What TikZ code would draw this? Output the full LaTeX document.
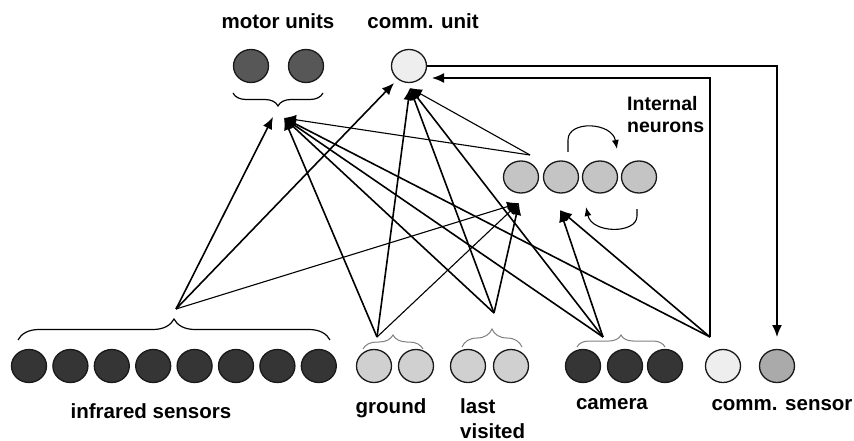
\documentclass[tikz,border=0pt]{standalone}
\usepackage{fontspec}
\setmainfont{Liberation Sans}
\usetikzlibrary{arrows.meta,shapes.geometric,decorations.pathreplacing}
\definecolor{darkn}{HTML}{353535}
\definecolor{motorn}{HTML}{575757}
\definecolor{paleN}{HTML}{EEEEEE}
\definecolor{lightN}{HTML}{D0D0D0}
\definecolor{internN}{HTML}{C4C4C4}
\definecolor{midN}{HTML}{AAAAAA}
\begin{document}
\begin{tikzpicture}[x=1pt,y=-1pt,
  neuron/.style={ellipse,draw=black!90,line width=1.3pt,minimum width=35pt,minimum height=33pt,inner sep=0pt},
  lbl/.style={font=\fontsize{20.5}{25}\selectfont\bfseries,inner sep=0pt},
  conn/.style={line width=1.6pt,-{Latex[length=12pt,width=10pt]}},
  thinconn/.style={line width=1.1pt,-{Latex[length=12pt,width=10pt]}},
  loopconn/.style={line width=1.1pt,-{Latex[length=9pt,width=7pt]}},
  bigbrace/.style={decorate,decoration={brace,amplitude=#1},line width=1.2pt},
  smallbrace/.style={decorate,decoration={brace,amplitude=#1},line width=1pt,draw=black!50},
]
\fill[white] (0,0) rectangle (854,441);
\useasboundingbox (0,0) rectangle (854,441);

% ---- neurons ----
\foreach \i in {1,...,8}{
  \node[neuron,fill=darkn] (ir\i) at ({29+41.4*(\i-1)},366) {};
}
\node[neuron,fill=lightN] (g1) at (374,366) {};
\node[neuron,fill=lightN] (g2) at (416,366) {};
\node[neuron,fill=lightN] (lv1) at (468,366) {};
\node[neuron,fill=lightN] (lv2) at (511,366) {};
\node[neuron,fill=darkn] (c1) at (583,366) {};
\node[neuron,fill=darkn] (c2) at (625,366) {};
\node[neuron,fill=darkn] (c3) at (665,366) {};
\node[neuron,fill=paleN] (cs1) at (723,366) {};
\node[neuron,fill=midN] (cs2) at (777,366) {};

\node[neuron,fill=motorn] (m1) at (251,66) {};
\node[neuron,fill=motorn] (m2) at (306,66) {};
\node[neuron,fill=paleN] (cu) at (409,66) {};

\node[neuron,fill=internN,minimum height=32pt] (n1) at (521,177) {};
\node[neuron,fill=internN,minimum height=32pt] (n2) at (561,177) {};
\node[neuron,fill=internN,minimum height=32pt] (n3) at (600,177) {};
\node[neuron,fill=internN,minimum height=32pt] (n4) at (639,177) {};

% ---- labels ----
\node[lbl] (tmot) at (278,21) {motor units};
\node[lbl] (tcu) at (423,21) {comm. unit};
\node[lbl,align=left,anchor=north west,font=\fontsize{19.5}{22}\selectfont\bfseries] (tint) at (627,96) {Internal\\neurons};
\node[lbl] (tir) at (151,411) {infrared sensors};
\node[lbl] (tgr) at (391,408) {ground};
\node[lbl,align=left,anchor=north west] (tlv) at (460,398) {last\\visited};
\node[lbl] (tcam) at (612,404) {camera};
\node[lbl] (tcs) at (782,405) {comm. sensor};

% ---- braces ----
\draw[bigbrace=21pt] (18,340) -- (330,340);
\draw[bigbrace=13pt,decoration={mirror}] (233,93) -- (323,93);
\draw[smallbrace=14pt] (363,349) -- (423,349);
\draw[smallbrace=18pt] (462,347) -- (522,347);
\draw[smallbrace=12pt] (577,347) -- (665,347);

% ---- connection points ----
\coordinate (irS) at (176,309);
\coordinate (grS) at (377,337);
\coordinate (lvS) at (494,313);
\coordinate (camS) at (603,337);
\coordinate (csS) at (710,337);
\coordinate (inS) at (530,155);

\coordinate (motA) at (273,117);
\coordinate (motB) at (284,118);
\coordinate (cuA) at (394,83);
\coordinate (cuB) at (410,88);
\coordinate (cuR) at (432,78);
\coordinate (inA) at (519,203);
\coordinate (inB) at (560,210);
\coordinate (csT) at (777,337);

% ---- connections ----
\draw[conn] (irS) -- (motA);
\draw[conn] (irS) -- (cuA);
\draw[thinconn] (irS) -- (inA);

\draw[conn] (grS) -- (motB);
\draw[conn] (grS) -- (cuB);
\draw[thinconn] (grS) -- (inA);

\draw[conn] (lvS) -- (motB);
\draw[conn] (lvS) -- (cuB);
\draw[conn] (lvS) -- (inA);

\draw[conn] (camS) -- (motB);
\draw[conn] (camS) -- (cuB);
\draw[conn] (camS) -- (inB);

\draw[conn] (csS) -- (motB);
\draw[conn] (csS) -- (inB);

\draw[thinconn] (inS) -- (motB);
\draw[thinconn] (inS) -- (cuB);

\draw[conn] (csS) |- (cuR);
\draw[conn] (cu.east) -| (csT);

% ---- recurrent arrows ----
\coordinate (lpA) at (568,152);
\coordinate (lpB) at (617,149);
\coordinate (lpC) at (637,209);
\coordinate (lpD) at (586,207);
\draw[loopconn] (lpA) -- (568,140) .. controls (568,120) and (612,122) .. (lpB);
\draw[loopconn] (lpC) -- (637,216) .. controls (637,234) and (592,234) .. (lpD);
\end{tikzpicture}
\end{document}
